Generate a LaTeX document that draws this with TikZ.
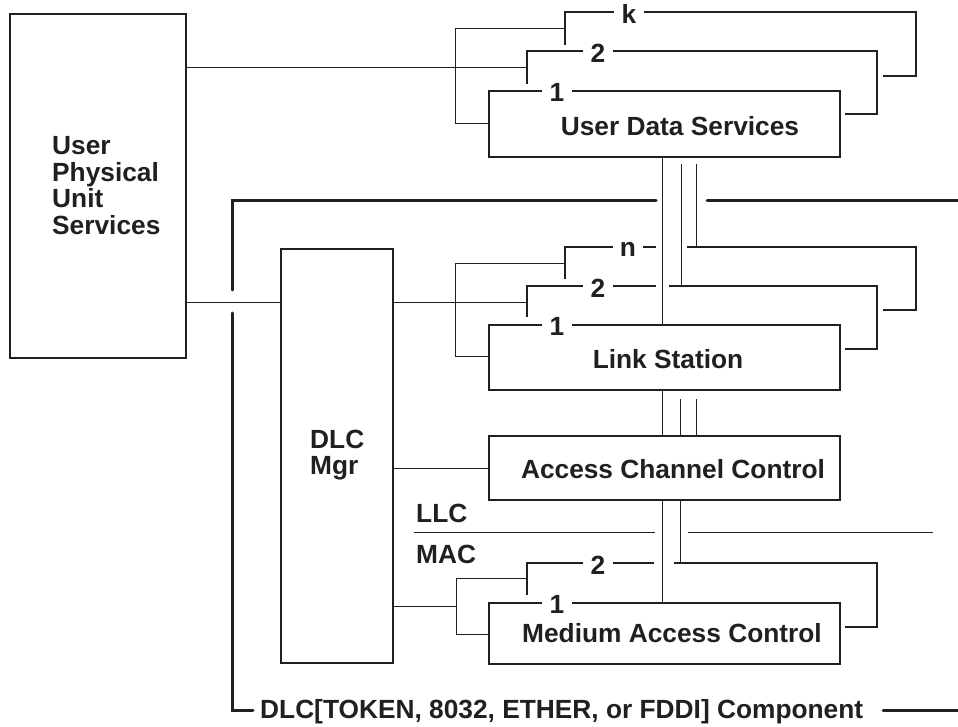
\documentclass[tikz,border=0pt]{standalone}
\usepackage{fontspec}
\setmainfont{Liberation Sans}
\definecolor{inkc}{RGB}{35,31,32}
\begin{document}
\begin{tikzpicture}[x=1pt,y=-1pt,
  box/.style={draw=inkc, line width=2pt, rectangle, inner sep=0pt, anchor=north west},
  outl/.style={draw=inkc, line width=2pt},
  conn/.style={draw=inkc, line width=0.9pt},
  comp/.style={draw=inkc, line width=3pt, line cap=round},
  txt/.style={font=\bfseries\fontsize{26.3}{26.7}\selectfont, text=inkc, inner sep=0pt},
  num/.style={txt, fill=white, inner xsep=7.5pt, inner ysep=1pt}
]
\useasboundingbox (0,0) rectangle (958,727);

% User Physical Unit Services
\node[box, minimum width=176pt, minimum height=344pt] (upus) at (9,13) {};
\node[txt, anchor=base west] (upus1) at (52,155) {User};
\node[txt, anchor=base west] (upus2) at (52,182) {Physical};
\node[txt, anchor=base west] (upus3) at (52,208) {Unit};
\node[txt, anchor=base west] (upus4) at (52,235) {Services};

% User Data Services stack
\draw[outl] (565,45) -- (565,12) -- (916,12) -- (916,76) -- (883,76);
\node[num] (udsk) at (629,14) {k};
\draw[outl] (527,84) -- (527,51) -- (877,51) -- (877,114) -- (845,114);
\node[num] (uds2) at (598,53) {2};
\node[box, minimum width=351pt, minimum height=66pt] (uds) at (488,90) {};
\node[num] (uds1) at (557,92) {1};
\node[txt, anchor=base] (udst) at (680,136) {User Data Services};
\draw[conn] (upus.east |- 0,67) -- (527,67);
\draw[conn] (565,28) -- (455,28) -- (455,123) -- (uds.west |- 0,123);

% DLC component frame
\draw[comp] (232,290) -- (232,201) -- (656,201);
\draw[comp] (707,201) -- (960,201);
\draw[comp] (232,313) -- (232,710) -- (253,710);
\node[txt, anchor=base west] (comptext) at (260,718) {DLC[TOKEN, 8032, ETHER, or FDDI] Component};
\draw[comp] (883,710) -- (960,710);

% Link Station stack
\draw[outl] (565,279) -- (565,247) -- (656,247);
\draw[outl] (687,247) -- (916,247) -- (916,310) -- (883,310);
\node[num, inner xsep=7pt] (lsn) at (628,249) {n};
\draw[outl] (527,317) -- (527,286) -- (656,286);
\draw[outl] (669,286) -- (877,286) -- (877,349) -- (845,349);
\node[num] (ls2) at (598,288) {2};
\node[box, minimum width=351pt, minimum height=65pt] (ls) at (488,324) {};
\node[num] (ls1) at (557,326) {1};
\node[txt, anchor=base] (lst) at (668,368) {Link Station};
\draw[conn] (565,263) -- (455,263) -- (455,356) -- (ls.west |- 0,356);

% verticals UDS -> LS
\draw[conn] (uds.south -| 662,0) -- (ls.north -| 662,0);
\draw[conn] (681,164) -- (681,286);
\draw[conn] (696,164) -- (696,247);

% DLC Mgr
\node[box, minimum width=112pt, minimum height=414pt] (mgr) at (280,248) {};
\node[txt, anchor=base west] (mgr1) at (310,448) {DLC};
\node[txt, anchor=base west] (mgr2) at (310,474) {Mgr};
\draw[conn] (upus.east |- 0,302) -- (mgr.west |- 0,302);
\draw[conn] (mgr.east |- 0,302) -- (527,302);

% Access Channel Control
\node[box, minimum width=351pt, minimum height=64pt] (acc) at (488,435) {};
\node[txt, anchor=base] (acct) at (673,478) {Access Channel Control};
\draw[conn] (mgr.east |- 0,468) -- (acc.west |- 0,468);
\draw[conn] (ls.south -| 662,0) -- (acc.north -| 662,0);
\draw[conn] (680,399) -- (acc.north -| 680,0);
\draw[conn] (696,399) -- (acc.north -| 696,0);

% LLC / MAC
\node[txt, anchor=base west] (llc) at (416,522) {LLC};
\node[txt, anchor=base west] (mac) at (416,563) {MAC};
\draw[conn] (414,532) -- (655,532);
\draw[conn] (688,532) -- (933,532);

% Medium Access Control stack
\node[box, minimum width=351pt, minimum height=61pt] (macbox) at (488,602) {};
\draw[conn] (acc.south -| 662,0) -- (macbox.north -| 662,0);
\draw[conn] (acc.south -| 680,0) -- (680,563);
\draw[outl] (527,595) -- (527,563) -- (654,563);
\draw[outl] (674,563) -- (877,563) -- (877,627) -- (845,627);
\node[num] (mac2) at (598,565) {2};
\node[num] (mac1) at (557,604) {1};
\node[txt, anchor=base] (mact) at (672,642) {Medium Access Control};
\draw[conn] (mgr.east |- 0,606) -- (456,606);
\draw[conn] (527,578) -- (456,578) -- (456,634) -- (macbox.west |- 0,634);
\end{tikzpicture}
\end{document}
